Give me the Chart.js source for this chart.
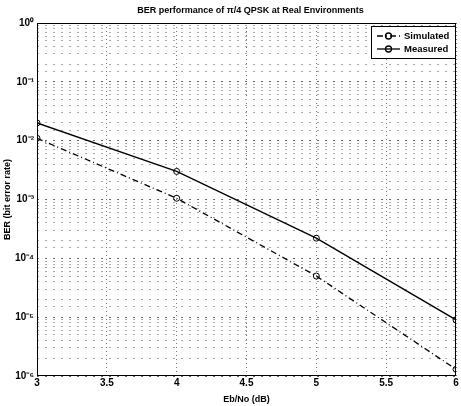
<!DOCTYPE html>
<html>
<head>
<meta charset="utf-8">
<script src="https://cdn.jsdelivr.net/npm/chart.js@4"></script>
<style>
  html, body { margin: 0; padding: 0; background: #fff; }
  #wrap { width: 461px; height: 406px; }
</style>
</head>
<body>
<div id="wrap"><canvas id="ber"></canvas></div>
<script>
const ebno = [3, 4, 5, 6];
const simulated = [1.1e-2, 1.05e-3, 5e-5, 1.3e-6];
const measured = [2e-2, 3e-3, 2.2e-4, 9e-6];
const xTicks = [3, 3.5, 4, 4.5, 5, 5.5, 6];
const yDecades = [1, 1e-1, 1e-2, 1e-3, 1e-4, 1e-5, 1e-6];

const sup = {'-': '⁻', '0': '⁰', '1': '¹', '2': '²', '3': '³', '4': '⁴', '5': '⁵', '6': '⁶'};
const powLabel = v => '10' + String(Math.round(Math.log10(v))).split('').map(c => sup[c]).join('');
const isDecade = v => yDecades.some(d => Math.abs(v / d - 1) < 1e-6);

const font = 'Liberation Sans';

// box, title and matlab-like legend
const frame = {
  id: 'frame',
  afterDraw(chart) {
    const {ctx, chartArea: a} = chart;
    ctx.save();
    ctx.strokeStyle = '#000';
    ctx.lineWidth = 1;
    ctx.setLineDash([]);
    ctx.strokeRect(a.left + 0.5, a.top + 0.5, a.right - a.left - 1, a.bottom - a.top - 1);

    ctx.fillStyle = '#000';
    ctx.font = 'bold 9px ' + font;
    ctx.textAlign = 'center';
    ctx.textBaseline = 'middle';
    ctx.fillText('BER performance of π/4 QPSK at Real Environments', (a.left + a.right) / 2 + 4, 11);

    // legend
    const bx = 371, by = 26, bw = 84, bh = 32;
    ctx.fillStyle = '#fff';
    ctx.fillRect(bx, by, bw, bh);
    ctx.strokeRect(bx + 0.5, by + 0.5, bw, bh);
    chart.data.datasets.forEach((ds, i) => {
      const y = by + 10 + i * 13;
      ctx.beginPath();
      ctx.setLineDash(ds.borderDash || []);
      ctx.lineWidth = 1.3;
      ctx.moveTo(bx + 6, y);
      ctx.lineTo(bx + 29, y);
      ctx.stroke();
      ctx.setLineDash([]);
      ctx.beginPath();
      ctx.arc(bx + 17.5, y, 3, 0, Math.PI * 2);
      ctx.stroke();
      ctx.fillStyle = '#000';
      ctx.font = 'bold 9.5px ' + font;
      ctx.textAlign = 'left';
      ctx.fillText(ds.label, bx + 33, y + 0.5);
    });
    ctx.restore();
  }
};

new Chart(document.getElementById('ber'), {
  type: 'line',
  data: {
    datasets: [{
      label: 'Simulated',
      data: ebno.map((x, i) => ({x: x, y: simulated[i]})),
      borderColor: '#000',
      borderWidth: 1.3,
      borderDash: [6, 3, 1, 3],
      pointRadius: 3,
      pointBorderWidth: 1,
      pointBackgroundColor: 'rgba(0,0,0,0)',
      pointBorderColor: '#000',
      tension: 0
    }, {
      label: 'Measured',
      data: ebno.map((x, i) => ({x: x, y: measured[i]})),
      borderColor: '#000',
      borderWidth: 1.3,
      pointRadius: 3,
      pointBorderWidth: 1,
      pointBackgroundColor: 'rgba(0,0,0,0)',
      pointBorderColor: '#000',
      tension: 0
    }]
  },
  options: {
    responsive: true,
    maintainAspectRatio: false,
    animation: false,
    layout: { padding: { top: 23, right: 3, left: 2, bottom: 1 } },
    plugins: {
      legend: { display: false },
      title: { display: false },
      tooltip: { enabled: false }
    },
    scales: {
      x: {
        type: 'linear',
        min: 3,
        max: 6,
        afterBuildTicks: s => { s.ticks = xTicks.map(v => ({value: v})); },
        ticks: {
          color: '#000',
          font: { family: font, size: 10, weight: 'bold' },
          padding: 1,
          maxRotation: 0,
          callback: v => String(v)
        },
        grid: { color: '#777', drawTicks: false, lineWidth: 1 },
        border: { display: false, dash: [1, 3] },
        title: {
          display: true,
          text: 'Eb/No (dB)',
          color: '#000',
          font: { family: font, size: 9, weight: 'bold' },
          padding: { top: 0, bottom: 0 }
        },
        afterFit: s => { s.height = 29; }
      },
      y: {
        type: 'logarithmic',
        min: 1e-6,
        max: 1,
        ticks: {
          color: '#000',
          font: { family: font, size: 10, weight: 'bold' },
          padding: 3,
          autoSkip: false,
          callback: v => isDecade(v) ? powLabel(v) : ''
        },
        grid: {
          drawTicks: false,
          lineWidth: 1,
          color: c => isDecade(c.tick.value) ? '#666' : '#aaa'
        },
        border: { display: false, dash: [2, 6] },
        title: {
          display: true,
          text: 'BER (bit error rate)',
          color: '#000',
          font: { family: font, size: 9, weight: 'bold' },
          padding: { top: 0, bottom: 2 }
        },
        afterFit: s => { s.width = 35; }
      }
    }
  },
  plugins: [frame]
});
</script>
</body>
</html>
